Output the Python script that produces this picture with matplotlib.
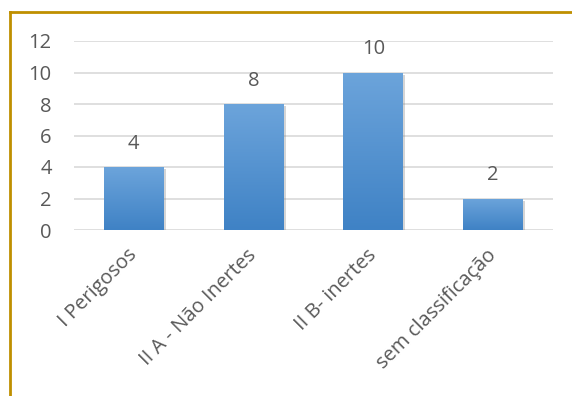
import numpy as np
import matplotlib.pyplot as plt
import matplotlib.patheffects as pe
from matplotlib.colors import LinearSegmentedColormap

categories = ['I Perigosos', 'II A - Não Inertes', 'II B- inertes', 'sem classificação']
values = [4, 8, 10, 2]
yticks = [0, 2, 4, 6, 8, 10, 12]

plt.rcParams['font.family'] = ['Open Sans', 'DejaVu Sans']
text_color = '#595959'
fs = 14.5

fig = plt.figure(figsize=(5.72, 3.96), dpi=100)
ax = fig.add_axes([74 / 572, 1 - 230 / 396, 479 / 572, 189 / 396])

x = np.arange(len(categories))
bars = ax.bar(x, values, width=0.5, color='#5B9BD5', zorder=3,
              path_effects=[pe.SimplePatchShadow(offset=(1.5, -1.5), shadow_rgbFace='#888888', alpha=0.35),
                            pe.Normal()])

# vertical gradient on each bar
cmap = LinearSegmentedColormap.from_list('bar', ['#3F82C5', '#6CA4DB'])
grad = np.linspace(0, 1, 256).reshape(-1, 1)
for b in bars:
    x0, y0 = b.get_x(), b.get_y()
    im = ax.imshow(grad, cmap=cmap, aspect='auto', origin='lower',
                   extent=[x0, x0 + b.get_width(), y0, y0 + b.get_height()], zorder=4)
    im.set_clip_path(b)

for xi, v in zip(x, values):
    ax.annotate(str(v), (xi, v), xytext=(0, 9.5), textcoords='offset points',
                ha='center', va='bottom', fontsize=fs, color=text_color)

ax.set_xlim(-0.5, len(categories) - 0.5)
ax.set_ylim(0, 12)
ax.set_yticks(yticks)
ax.set_xticks(x)
ax.set_xticklabels(categories, rotation=45, ha='right', va='center', rotation_mode='anchor',
                   fontsize=fs, color=text_color)
ax.tick_params(axis='y', labelsize=fs, labelcolor=text_color, length=0, pad=16)
ax.tick_params(axis='x', length=0, pad=16)
ax.grid(axis='y', color='#D9D9D9', linewidth=1.2, zorder=0)
for s in ax.spines.values():
    s.set_visible(False)

# frame lines on top and left
fig.add_artist(plt.Line2D([10 / 572, 10 / 572], [0, 1 - 12 / 396], color='#BF8F00', linewidth=2))
fig.add_artist(plt.Line2D([10 / 572, 1], [1 - 12 / 396, 1 - 12 / 396], color='#BF8F00', linewidth=2))

fig.savefig('out.png', dpi=100)
